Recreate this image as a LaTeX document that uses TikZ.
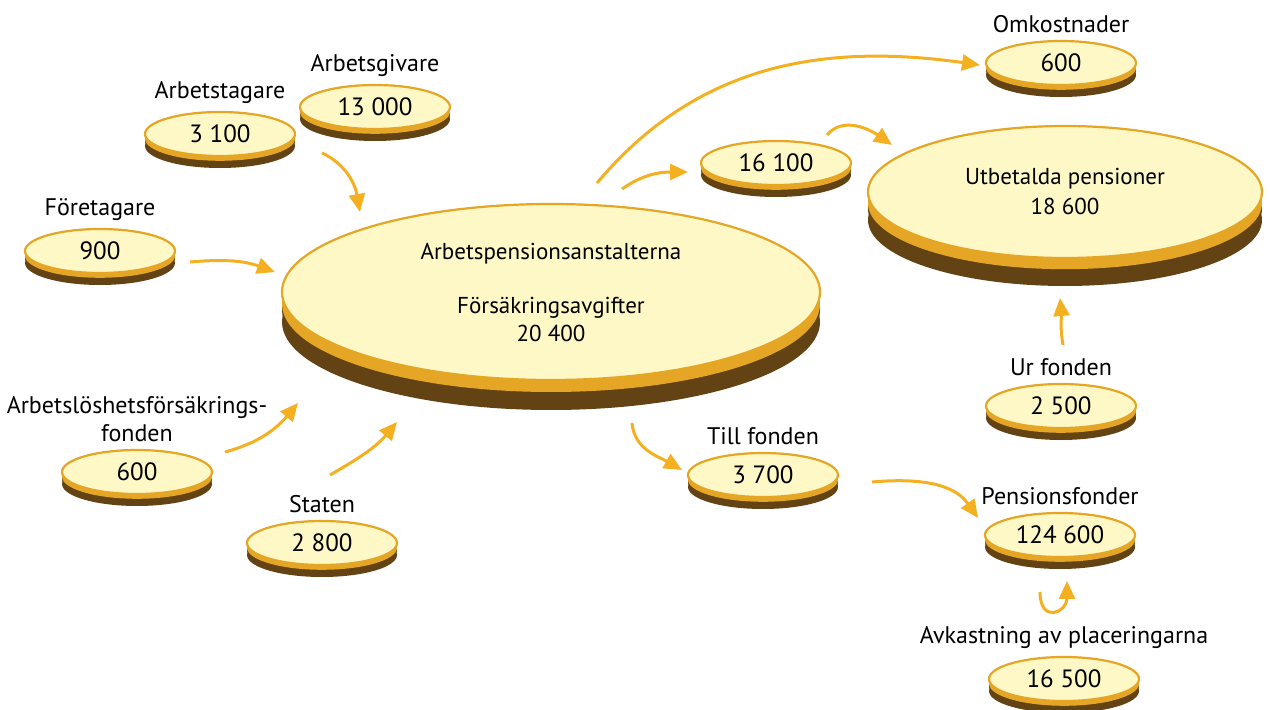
\documentclass[tikz,border=0pt]{standalone}
\usepackage{fontspec}
\setmainfont{PT Sans}
\usepackage{xcolor}
\usepackage{tikz}
\usetikzlibrary{positioning}
\usetikzlibrary{arrows.meta,shapes.geometric}
\definecolor{coinface}{HTML}{FEF7C6}
\definecolor{coingold}{HTML}{E4A624}
\definecolor{coinbrown}{HTML}{634314}
\definecolor{flowcol}{HTML}{F4B020}
\tikzset{flow/.style = {->,> = {Triangle[length=9pt,width=8pt]},draw=flowcol,line width=1.5pt}}

\begin{document}
\begin{tikzpicture}[x=0.5pt,y=0.5pt,
    coin node/.style={ellipse,draw=coingold,fill=coinface,line width=1.1pt,inner sep=0pt,
        minimum width=75pt,minimum height=22pt,align=center,font=\fontsize{12.5}{15}\selectfont,
        preaction={fill=coinbrown,transform canvas={yshift=-#1}},
        preaction={fill=coinbrown,transform canvas={yshift=-0.6*#1}},
        preaction={fill=coingold,transform canvas={yshift=-0.4*#1}},
        preaction={fill=coingold,transform canvas={yshift=-0.15*#1}}},
    coin node/.default=6pt,
    label node/.style={align=center,font=\fontsize{12}{14}\selectfont}]
    \useasboundingbox (0,0) rectangle (1270,-710);

    % coins
    \node[coin node] (tagare) at (220,-134) {3 100};
    \node[coin node] (givare) at (375,-107) {13 000};
    \node[coin node] (foret) at (100,-251) {900};
    \node[coin node] (alfond) at (137,-472) {600};
    \node[coin node] (staten) at (322,-543) {2 800};
    \node[coin node=15pt,minimum width=269pt,minimum height=88pt,font=\fontsize{11.5}{14}\selectfont] (anst) at (551,-292)
        {Arbetspensionsanstalterna\\[13pt]Försäkringsavgifter\\20 400};
    \node[coin node] (mellan) at (776,-163) {16 100};
    \node[coin node] (omkost) at (1061,-63) {600};
    \node[coin node=14pt,minimum width=197pt,minimum height=66pt,font=\fontsize{11.5}{15}\selectfont] (utbet) at (1065,-192)
        {Utbetalda pensioner\\18 600};
    \node[coin node] (ur) at (1061,-406) {2 500};
    \node[coin node] (till) at (763,-475) {3 700};
    \node[coin node] (fonder) at (1060,-535) {124 600};
    \node[coin node] (avk) at (1064,-679) {16 500};

    % labels
    \node[label node] (tagareL) [above=0pt of tagare] {Arbetstagare};
    \node[label node] (givareL) [above=0pt of givare] {Arbetsgivare};
    \node[label node] (foretL) [above=0pt of foret] {Företagare};
    \node[label node] (alfondL) [above=0pt of alfond] {Arbetslöshetsförsäkrings-\\fonden};
    \node[label node] (statenL) [above=0pt of staten] {Staten};
    \node[label node] (omkostL) [above=0pt of omkost] {Omkostnader};
    \node[label node] (urL) [above=0pt of ur] {Ur fonden};
    \node[label node] (tillL) [above=0pt of till] {Till fonden};
    \node[label node] (fonderL) [above=0pt of fonder] {Pensionsfonder};
    \node[label node] (avkL) [above=0pt of avk] {Avkastning av placeringarna};

    % arrow ends
    \coordinate (g1) at (322,-153); \coordinate (g2) at (360,-212);
    \coordinate (f1) at (190,-262); \coordinate (f2) at (275,-272);
    \coordinate (a1) at (225,-452); \coordinate (a2) at (298,-403);
    \coordinate (s1) at (330,-475); \coordinate (s2) at (397,-422);
    \coordinate (o1) at (597,-183); \coordinate (o2) at (980,-65);
    \coordinate (m1) at (622,-189); \coordinate (m2) at (688,-172);
    \coordinate (p1) at (827,-135); \coordinate (p2) at (892,-145);
    \coordinate (u1) at (1063,-345); \coordinate (u2) at (1060,-298);
    \coordinate (t1) at (632,-423); \coordinate (t2) at (682,-470);
    \coordinate (r1) at (872,-482); \coordinate (r2) at (978,-518);
    \coordinate (k1) at (1040,-592); \coordinate (k2) at (1067,-581);

    \path
        (g1) edge[flow,out=-25,in=100] (g2)
        (f1) edge[flow,out=5,in=160] (f2)
        (a1) edge[flow,out=15,in=-130] (a2)
        (s1) edge[flow,out=30,in=-130] (s2)
        (o1) edge[flow,out=50,in=172] (o2)
        (m1) edge[flow,out=35,in=180] (m2)
        (p1) edge[flow,out=50,in=145] (p2)
        (u1) edge[flow,out=100,in=-85] (u2)
        (t1) edge[flow,out=-85,in=150] (t2)
        (r1) edge[flow,out=5,in=125] (r2)
        (k1) edge[flow,out=-90,in=-90,looseness=2.8] (k2)
        ;
\end{tikzpicture}
\end{document}
